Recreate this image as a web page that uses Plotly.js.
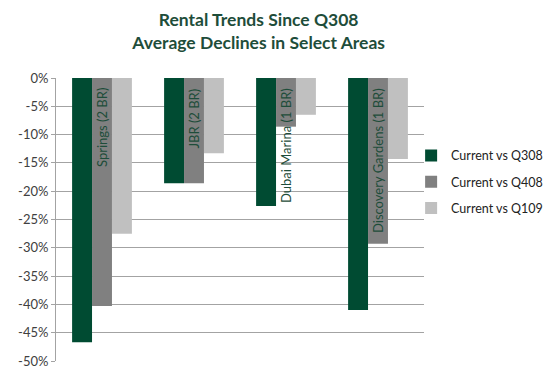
<!DOCTYPE html>
<html><head><meta charset="utf-8">
<script src="https://cdn.plot.ly/plotly-3.0.1.min.js"></script>
<style>body{margin:0;background:#fff}#c{width:548px;height:379px}</style>
</head><body><div id="c"></div>
<script>
var categories = ["Springs (2 BR)", "JBR (2 BR)", "Dubai Marina (1 BR)", "Discovery Gardens (1 BR)"];
var seriesNames = ["Current vs Q308", "Current vs Q408", "Current vs Q109"];
var vsQ308 = [-46.7, -18.6, -22.6, -41.0];
var vsQ408 = [-40.3, -18.6, -8.6, -29.3];
var vsQ109 = [-27.5, -13.3, -6.5, -14.3];
var tickVals = [0, -5, -10, -15, -20, -25, -30, -35, -40, -45, -50];
var tickText = ["0%", "-5%", "-10%", "-15%", "-20%", "-25%", "-30%", "-35%", "-40%", "-45%", "-50%"];

var colors = ["#004b32", "#808080", "#c0c0c0"];
var vals = [vsQ308, vsQ408, vsQ109];
var data = vals.map(function(v, i){
  return {type:'bar', x:categories, y:v, name:seriesNames[i], legendgroup:'g'+i,
    marker:{color:colors[i]}, hoverinfo:'none'};
});
var annotations = categories.map(function(c){
  return {x:c, y:-1.5, xref:'x', yref:'y', text:c, showarrow:false, textangle:-90,
    xanchor:'center', yanchor:'top', font:{family:'Lato, sans-serif', size:13, color:'#1e4d3a'}};
});
var layout = {
  width:548, height:379,
  margin:{l:56, r:124, t:78, b:18, autoexpand:false},
  paper_bgcolor:'#fff', plot_bgcolor:'#fff',
  font:{family:'Lato, sans-serif'},
  title:{text:'<b>Rental Trends Since Q308<br>Average Declines in Select Areas</b>', x:0.472, xref:'container', xanchor:'center', y:0.932, yref:'container', yanchor:'middle',
    font:{family:'Lato, sans-serif', size:17.5, color:'#1e4d3a'}},
  barmode:'group', bargap:0.35, bargroupgap:0,
  xaxis:{showticklabels:false, showgrid:false, zeroline:false, showline:false, ticks:''},
  yaxis:{range:[-50, 0], tickvals:tickVals, ticktext:tickText, showgrid:true, gridcolor:'#a3a3a3', gridwidth:1,
    zeroline:false, showline:true, linecolor:'#a3a3a3', ticks:'outside', ticklen:4, tickcolor:'#a3a3a3',
    tickfont:{family:'Lato, sans-serif', size:13, color:'#404040'}},
  legend:{x:0.965, xanchor:'left', y:0.778, yanchor:'top', tracegroupgap:7, bgcolor:'rgba(0,0,0,0)',
    font:{family:'Lato, sans-serif', size:12.5, color:'#222'}, traceorder:'grouped'},
  annotations:annotations,
  showlegend:true
};
Plotly.newPlot('c', data, layout, {displayModeBar:false, staticPlot:true});
</script></body></html>
